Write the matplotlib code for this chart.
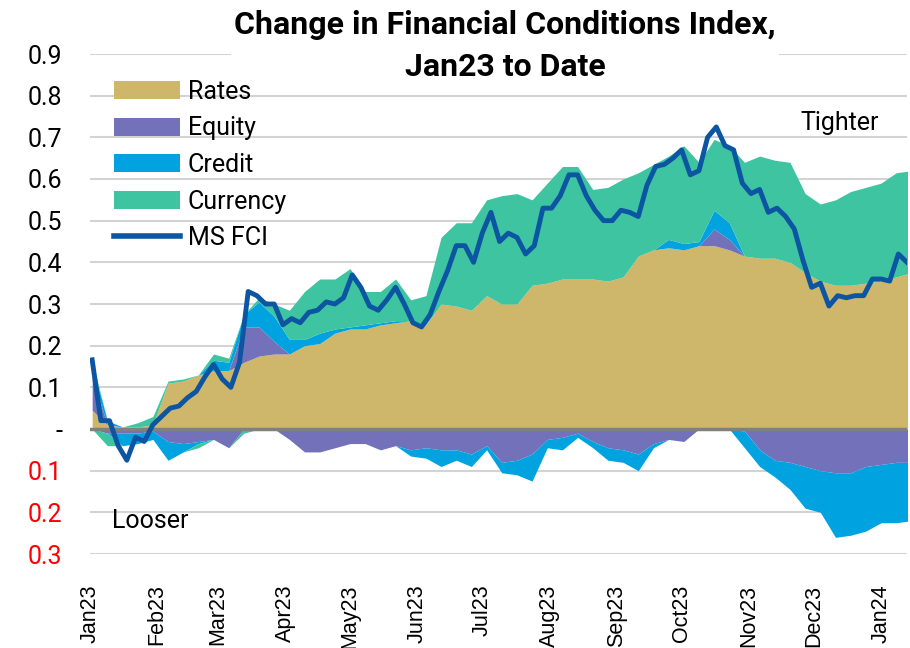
import matplotlib
matplotlib.use("Agg")
import matplotlib.pyplot as plt
import matplotlib.dates as mdates
from matplotlib.lines import Line2D
from matplotlib.patches import Patch
import numpy as np
import pandas as pd

# component contributions, read weekly (Mondays from 2 Jan 2023)
week_dates = pd.date_range("2023-01-02", periods=55, freq="7D")
rates = [0.045, 0.01, 0.005, 0.005, 0.01, 0.11, 0.115, 0.13, 0.14, 0.14,
         0.16, 0.175, 0.18, 0.18, 0.2, 0.205, 0.23, 0.24, 0.24, 0.25,
         0.255, 0.26, 0.25, 0.30, 0.295, 0.285, 0.32, 0.30, 0.30, 0.345,
         0.35, 0.36, 0.36, 0.36, 0.355, 0.365, 0.415, 0.43, 0.435, 0.43,
         0.44, 0.44, 0.43, 0.415, 0.41, 0.41, 0.40, 0.375, 0.355, 0.345,
         0.345, 0.35, 0.355, 0.365, 0.375]
equity = [0.08, -0.01, -0.01, -0.01, -0.005, -0.03, -0.035, -0.03, -0.025, -0.045,
          0.085, 0.07, 0.03, -0.025, -0.055, -0.055, -0.045, -0.035, -0.035, -0.05,
          -0.04, -0.05, -0.045, -0.05, -0.05, -0.06, -0.04, -0.08, -0.075, -0.06,
          -0.025, -0.02, -0.01, -0.03, -0.045, -0.05, -0.06, -0.035, -0.025, -0.03,
          0.0, 0.04, 0.025, -0.005, -0.05, -0.075, -0.08, -0.09, -0.1, -0.105,
          -0.105, -0.09, -0.085, -0.08, -0.08]
credit = [0.03, 0.01, -0.03, -0.025, -0.02, -0.045, -0.02, -0.005, 0.025, 0.02,
          0.03, 0.06, 0.06, 0.035, 0.015, 0.025, 0.01, 0.005, 0.01, 0.005,
          0.005, -0.015, -0.025, -0.04, -0.025, -0.03, -0.01, -0.025, -0.035, -0.065,
          -0.02, -0.03, -0.01, -0.015, -0.03, -0.03, -0.04, -0.01, 0.02, 0.015,
          0.01, 0.045, 0.04, -0.04, -0.04, -0.04, -0.065, -0.1, -0.1, -0.155,
          -0.15, -0.155, -0.14, -0.145, -0.14]
currency = [0.01, -0.03, 0.0, 0.01, 0.02, 0.005, 0.005, -0.01, 0.015, 0.01,
            -0.01, 0.01, 0.03, 0.07, 0.115, 0.13, 0.12, 0.14, 0.08, 0.075,
            0.1, 0.05, 0.07, 0.16, 0.2, 0.21, 0.23, 0.26, 0.265, 0.205,
            0.24, 0.27, 0.27, 0.215, 0.225, 0.235, 0.2, 0.205, 0.2, 0.235,
            0.19, 0.17, 0.185, 0.225, 0.245, 0.235, 0.24, 0.19, 0.185, 0.205,
            0.225, 0.23, 0.235, 0.25, 0.245]

# MS FCI, read every 4 days
fci_dates = pd.date_range("2023-01-02", periods=95, freq="4D")
ms_fci = [0.166, 0.02, 0.02, -0.04, -0.075, -0.02, -0.03, 0.01, 0.03, 0.05,
          0.055, 0.075, 0.09, 0.125, 0.155, 0.12, 0.10, 0.16, 0.33, 0.32,
          0.30, 0.30, 0.25, 0.265, 0.255, 0.28, 0.285, 0.305, 0.30, 0.315,
          0.37, 0.34, 0.295, 0.285, 0.31, 0.34, 0.30, 0.255, 0.245, 0.275,
          0.33, 0.38, 0.44, 0.44, 0.40, 0.47, 0.52, 0.45, 0.47, 0.46,
          0.42, 0.44, 0.53, 0.53, 0.56, 0.61, 0.61, 0.56, 0.525, 0.50,
          0.50, 0.525, 0.52, 0.51, 0.585, 0.63, 0.635, 0.65, 0.67, 0.61,
          0.62, 0.70, 0.725, 0.68, 0.67, 0.59, 0.565, 0.575, 0.52, 0.53,
          0.51, 0.48, 0.405, 0.34, 0.35, 0.295, 0.32, 0.315, 0.32, 0.32,
          0.36, 0.36, 0.355, 0.42, 0.40]

series = [("Rates", rates, "#CEB66A"),
          ("Equity", equity, "#7271B9"),
          ("Credit", credit, "#00A3E0"),
          ("Currency", currency, "#3EC4A0")]
fci_color = "#0B55A3"

FONT = "Roboto"
fig = plt.figure(figsize=(9.1, 6.48), dpi=100)
ax = fig.add_axes([90 / 910, 1 - 554 / 648, 817 / 910, 500 / 648])

# stack positives and negatives separately, like Excel does
pos_base = np.zeros(len(week_dates))
neg_base = np.zeros(len(week_dates))
for name, vals, color in series:
    v = np.array(vals)
    pos = np.clip(v, 0, None)
    neg = np.clip(v, None, 0)
    ax.fill_between(week_dates, pos_base, pos_base + pos, color=color, lw=0, zorder=2)
    ax.fill_between(week_dates, neg_base, neg_base + neg, color=color, lw=0, zorder=2)
    pos_base = pos_base + pos
    neg_base = neg_base + neg

ax.axhline(0, color="#808080", lw=2.5, zorder=3)
ax.plot(fci_dates, ms_fci, color=fci_color, lw=3.5, zorder=4,
        solid_joinstyle="round")

ax.set_xlim(pd.Timestamp("2023-01-01"), pd.Timestamp("2024-01-13"))
ax.set_ylim(-0.3, 0.9)

yticks = np.round(np.arange(-0.3, 0.91, 0.1), 1)
ax.set_yticks(yticks)
ax.set_yticklabels(["-" if t == 0 else f"{abs(t):.1f}" for t in yticks],
                   fontsize=18, family=FONT)
for t, lab in zip(yticks, ax.get_yticklabels()):
    if t < 0:
        lab.set_color("#FF0000")
ax.tick_params(axis="y", length=0, pad=20)

ax.xaxis.set_major_locator(mdates.MonthLocator())
ax.xaxis.set_major_formatter(mdates.DateFormatter("%b%y"))
ax.tick_params(axis="x", length=0, pad=22, labelsize=15.5, rotation=90)
for lab in ax.get_xticklabels():
    lab.set_family("Liberation Sans")

ax.grid(axis="y", color="#D3D3D3", lw=1.5)
ax.set_axisbelow(True)
for s in ax.spines.values():
    s.set_visible(False)

handles = [Patch(facecolor=c, edgecolor="none", label=n) for n, _, c in series]
handles.append(Line2D([], [], color=fci_color, lw=4, label="MS FCI"))
leg = ax.legend(handles=handles, loc="upper left", frameon=False,
                bbox_to_anchor=(114 / 910, 1 - 80 / 648), bbox_transform=fig.transFigure,
                borderpad=0, borderaxespad=0, handlelength=2.65, handleheight=0.75,
                handletextpad=0.3, labelspacing=0.5, prop={"family": FONT, "size": 18})
leg.set_zorder(6)

ax.text(pd.Timestamp("2023-12-13"), 0.735, "Tighter", fontsize=18, family=FONT,
        ha="center", va="center")
ax.text(pd.Timestamp("2023-01-29"), -0.22, "Looser", fontsize=18, family=FONT,
        ha="center", va="center")

# title sits over the top gridline on a white box
ax.text(505 / 910, 1 - 10 / 648, "Change in Financial Conditions Index,\nJan23 to Date",
        transform=fig.transFigure, ha="center", va="top", fontsize=23,
        fontweight="bold", family=["Liberation Sans Narrow", "Roboto"],
        linespacing=1.5, clip_on=False, zorder=5,
        bbox=dict(facecolor="white", edgecolor="none", pad=2))

fig.savefig("out.png", dpi=100)
